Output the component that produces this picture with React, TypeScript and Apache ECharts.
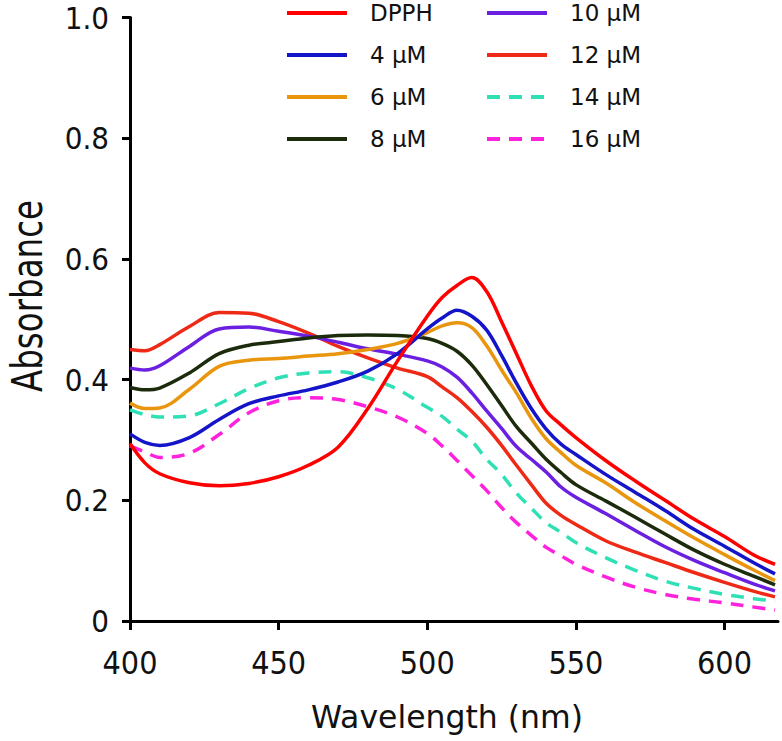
import React, { useEffect, useRef } from "react";
import * as echarts from "echarts";

const wavelength = [400, 405, 410, 420, 430, 440, 450, 460, 470, 480, 490, 500, 505, 510, 515, 520, 525, 530, 535, 540, 545, 550, 560, 570, 580, 590, 600, 610, 617];

const dpph = [0.294, 0.262, 0.244, 0.229, 0.224, 0.228, 0.239, 0.258, 0.288, 0.352, 0.431, 0.505, 0.536, 0.556, 0.569, 0.546, 0.496, 0.443, 0.390, 0.348, 0.325, 0.304, 0.266, 0.232, 0.200, 0.168, 0.140, 0.109, 0.094];
const c4 = [0.310, 0.296, 0.291, 0.304, 0.334, 0.360, 0.373, 0.383, 0.396, 0.414, 0.443, 0.484, 0.502, 0.515, 0.505, 0.482, 0.440, 0.394, 0.352, 0.318, 0.293, 0.276, 0.243, 0.213, 0.183, 0.151, 0.124, 0.096, 0.078];
const c6 = [0.361, 0.352, 0.353, 0.384, 0.422, 0.432, 0.435, 0.439, 0.443, 0.450, 0.460, 0.478, 0.489, 0.494, 0.486, 0.456, 0.416, 0.378, 0.336, 0.302, 0.279, 0.258, 0.229, 0.196, 0.166, 0.137, 0.110, 0.084, 0.067];
const c8 = [0.387, 0.383, 0.386, 0.411, 0.443, 0.457, 0.463, 0.469, 0.473, 0.474, 0.473, 0.468, 0.460, 0.447, 0.424, 0.392, 0.357, 0.322, 0.295, 0.268, 0.246, 0.226, 0.199, 0.172, 0.144, 0.117, 0.094, 0.074, 0.060];
const c10 = [0.419, 0.416, 0.423, 0.455, 0.484, 0.487, 0.480, 0.472, 0.462, 0.451, 0.442, 0.431, 0.421, 0.404, 0.378, 0.348, 0.319, 0.289, 0.268, 0.247, 0.222, 0.205, 0.178, 0.150, 0.123, 0.100, 0.080, 0.061, 0.050];
const c12 = [0.450, 0.448, 0.458, 0.488, 0.511, 0.510, 0.496, 0.477, 0.455, 0.436, 0.419, 0.405, 0.388, 0.370, 0.347, 0.321, 0.291, 0.258, 0.226, 0.195, 0.175, 0.160, 0.133, 0.114, 0.097, 0.080, 0.064, 0.049, 0.040];
const c14 = [0.350, 0.342, 0.338, 0.340, 0.360, 0.385, 0.403, 0.411, 0.413, 0.403, 0.384, 0.354, 0.339, 0.318, 0.298, 0.268, 0.243, 0.212, 0.187, 0.163, 0.147, 0.130, 0.105, 0.084, 0.066, 0.054, 0.044, 0.037, 0.033];
const c16 = [0.290, 0.280, 0.271, 0.278, 0.309, 0.345, 0.365, 0.370, 0.367, 0.355, 0.338, 0.311, 0.290, 0.266, 0.241, 0.216, 0.188, 0.163, 0.142, 0.122, 0.108, 0.094, 0.073, 0.056, 0.044, 0.036, 0.030, 0.023, 0.018];

const seriesNames = ["DPPH", "4 µM", "6 µM", "8 µM", "10 µM", "12 µM", "14 µM", "16 µM"];
const seriesValues = [dpph, c4, c6, c8, c10, c12, c14, c16];
const seriesColors = ["#ff0000", "#1414c8", "#e9960e", "#1c2b0c", "#6b1fe0", "#ee2a16", "#2ee0b4", "#ff22dd"];
const seriesDashed = [false, false, false, false, false, false, true, true];

const xTicks = [400, 450, 500, 550, 600];

export default function App() {
  const ref = useRef<HTMLDivElement>(null);

  useEffect(() => {
    if (!ref.current) return;
    const chart = echarts.init(ref.current, undefined, { renderer: "svg" });

    const series = seriesNames.map((name, i) => ({
      name,
      type: "line",
      data: wavelength.map((w, j) => [w, seriesValues[i][j]]),
      smooth: 0.35,
      symbol: "none",
      showSymbol: false,
      lineStyle: {
        color: seriesColors[i],
        width: 3.5,
        type: seriesDashed[i] ? [13, 9] : "solid",
      },
      itemStyle: { color: seriesColors[i] },
      z: 10 - i,
    }));

    const legendText = {
      fontFamily: "DejaVu Sans",
      fontSize: 23,
      color: "#111",
      lineHeight: 24,
      padding: [0, 0, 0, 18],
    };

    const legendBase = {
      orient: "vertical",
      top: 1,
      padding: 0,
      itemWidth: 60,
      itemHeight: 24,
      itemGap: 18,
      itemStyle: { opacity: 0, borderWidth: 0 },
      lineStyle: { width: 4 },
      textStyle: legendText,
    };

    chart.setOption({
      animation: false,
      backgroundColor: "#ffffff",
      grid: { left: 130, right: 4, top: 17.5, bottom: 120, containLabel: false },
      legend: [
        { ...legendBase, data: seriesNames.slice(0, 4), left: 285 },
        { ...legendBase, data: seriesNames.slice(4), left: 485 },
      ],
      xAxis: {
        type: "value",
        min: 400,
        max: 618,
        interval: 50,
        splitLine: { show: false },
        axisLine: { lineStyle: { color: "#000", width: 3 } },
        axisTick: {
          length: 9,
          lineStyle: { color: "#000", width: 3 },
          customValues: xTicks,
        },
        axisLabel: {
          fontFamily: "Liberation Sans Narrow, DejaVu Sans Condensed",
          fontSize: 32,
          color: "#111",
          margin: 26,
          formatter: (v: number) => (xTicks.indexOf(v) >= 0 ? String(v) : ""),
        },
      },
      yAxis: {
        type: "value",
        min: 0,
        max: 1,
        interval: 0.2,
        splitLine: { show: false },
        axisLine: { show: true, lineStyle: { color: "#000", width: 3 } },
        axisTick: { show: true, length: 8, lineStyle: { color: "#000", width: 3 } },
        axisLabel: {
          fontFamily: "Liberation Sans Narrow, DejaVu Sans Condensed",
          fontSize: 31,
          color: "#111",
          margin: 21,
          formatter: (v: number) => (v === 0 ? "0" : v.toFixed(1)),
        },
      },
      graphic: [
        {
          type: "text",
          x: 28,
          y: 296,
          rotation: Math.PI / 2,
          scaleX: 0.86,
          style: {
            text: "Absorbance",
            fontFamily: "Liberation Sans Narrow, DejaVu Sans Condensed",
            fontSize: 42,
            fill: "#111",
            align: "center",
            verticalAlign: "middle",
          },
        },
        {
          type: "text",
          x: 447,
          y: 717,
          style: {
            text: "Wavelength (nm)",
            fontFamily: "DejaVu Sans",
            fontSize: 31.5,
            fill: "#111",
            align: "center",
            verticalAlign: "middle",
          },
        },
      ],
      series,
    });

    return () => chart.dispose();
  }, []);

  return (
    <div
      ref={ref}
      style={{ position: "fixed", left: 0, top: 0, width: 782, height: 741, background: "#fff" }}
    />
  );
}
